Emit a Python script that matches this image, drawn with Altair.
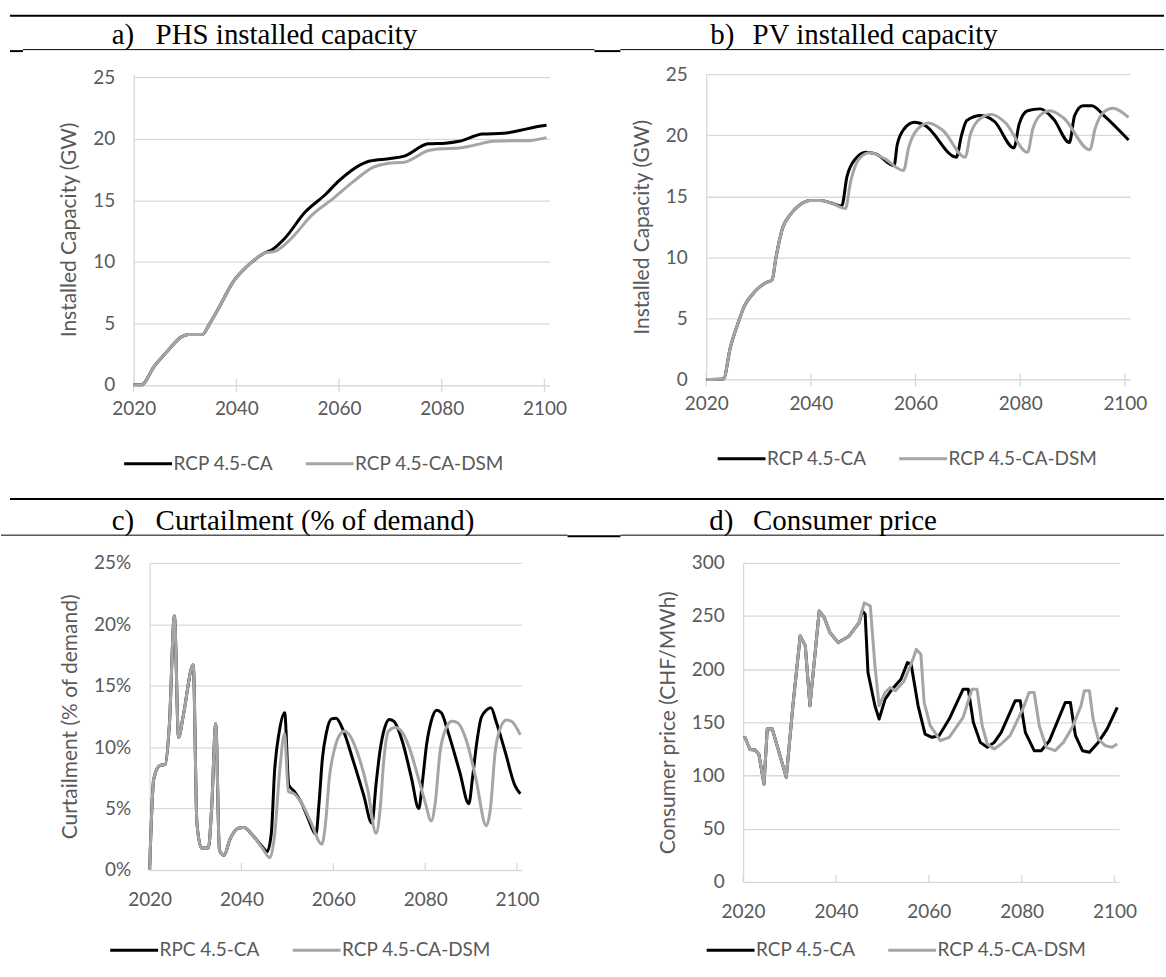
import altair as alt
import pandas as pd

FONT = "Lato"
SERIF = "Liberation Serif"
TEXT = "#595959"
GRID = "#D9D9D9"
BLACK = "#000000"
GRAY = "#A5A5A5"

CA = "RCP 4.5-CA"
CA_CURT = "RPC 4.5-CA"
DSM = "RCP 4.5-CA-DSM"

tick_years = [2020, 2040, 2060, 2080, 2100]

# a) PHS installed capacity (GW)
phs_ca_year = [2020, 2021.5, 2024, 2026.7, 2029.3, 2030.7, 2033.4, 2034.7, 2036.7, 2039.4,
               2042, 2045.4, 2047, 2049.4, 2053.4, 2057.4, 2060, 2066, 2070, 2072.7,
               2077.4, 2080.7, 2083.4, 2088, 2092, 2095.4, 2098, 2100.4]
phs_ca_gw = [0, 0, 1.5, 2.8, 3.9, 4.1, 4.1, 4.9, 6.35, 8.4,
             9.6, 10.7, 11.0, 11.9, 14.05, 15.5, 16.6, 18.2, 18.4, 18.6,
             19.6, 19.65, 19.8, 20.4, 20.45, 20.7, 20.95, 21.1]
phs_dsm_year = [2020, 2021.5, 2024, 2026.7, 2029.3, 2030.7, 2033.4, 2034.7, 2036.7, 2039.4,
                2042, 2045.4, 2047.5, 2050.7, 2054.7, 2058.7, 2062.7, 2066.7, 2069.4, 2072.7,
                2077.4, 2080, 2083.4, 2086, 2090, 2093.4, 2096.8, 2100.4]
phs_dsm_gw = [0, 0, 1.5, 2.8, 3.9, 4.1, 4.1, 4.9, 6.35, 8.4,
              9.6, 10.7, 10.85, 11.9, 13.8, 15.1, 16.5, 17.7, 18.0, 18.1,
              19.05, 19.2, 19.25, 19.45, 19.8, 19.85, 19.85, 20.1]

# b) PV installed capacity (GW)
pv_ca_year = [2020, 2023.3, 2024.6, 2026, 2027.3, 2029.3, 2031.3, 2032.6, 2033.3, 2034.6,
              2036, 2037.9, 2039.9, 2041.9, 2043.9, 2045.9, 2046.9, 2048.6, 2050.5, 2052.5,
              2055.9, 2056.5, 2057.8, 2059.8, 2061.8, 2067.8, 2068.8, 2069.8, 2072.5, 2075.1,
              2078.8, 2079.8, 2081.4, 2083.8, 2086.4, 2089.4, 2090.4, 2092, 2093.7, 2096, 2100.7]
pv_ca_gw = [0, 0.05, 2.6, 4.5, 6.0, 7.2, 7.9, 8.15, 9.9, 12.4,
            13.45, 14.3, 14.65, 14.65, 14.45, 14.2, 16.6, 18.1, 18.6, 18.45,
            17.5, 19.2, 20.5, 21.05, 20.8, 18.2, 20.0, 21.2, 21.6, 21.1,
            18.95, 20.9, 22.0, 22.15, 21.3, 19.4, 21.6, 22.4, 22.4, 21.6, 19.6]
pv_dsm_year = [2020, 2023.3, 2024.6, 2026, 2027.3, 2029.3, 2031.3, 2032.6, 2033.3, 2034.6,
               2036, 2037.9, 2039.9, 2041.9, 2043.9, 2046.6, 2047.6, 2049.3, 2051.3, 2054,
               2057.7, 2058.7, 2060.4, 2062.5, 2065.2, 2069.5, 2070.5, 2072.5, 2074.5, 2077.1,
               2081.4, 2082.4, 2084, 2085.7, 2088.3, 2093.3, 2094.3, 2096, 2097.7, 2100.7]
pv_dsm_gw = [0, 0.05, 2.6, 4.5, 6.0, 7.2, 7.9, 8.15, 9.9, 12.4,
             13.45, 14.3, 14.65, 14.65, 14.45, 14.0, 16.2, 18.1, 18.55, 18.1,
             17.1, 19.0, 20.5, 21.0, 20.4, 18.2, 20.1, 21.4, 21.7, 21.05,
             18.6, 20.5, 21.7, 22.0, 21.4, 18.8, 20.5, 21.9, 22.2, 21.45]

# c) Curtailment (% of demand); both runs coincide until the mid 2040s
curt_early_year = [2020, 2020.9, 2022.2, 2023.4, 2024.3, 2025.4, 2026.3, 2027.3, 2029.5, 2030.3,
                   2031.3, 2032.8, 2033.5, 2034.4, 2035.2, 2036.2, 2037.5, 2039.3, 2040.5, 2042.5]
curt_early_pct = [0.0, 7.4, 8.5, 8.6, 11.8, 20.7, 10.8, 12.5, 16.7, 3.8,
                  1.8, 1.8, 5.0, 11.9, 1.6, 1.2, 2.5, 3.4, 3.45, 2.8]
curt_ca_year = [2044.5, 2045.6, 2046.5, 2047.2, 2048.2, 2049.4, 2050.3, 2051.5, 2053, 2054.5,
                2056.2, 2056.9, 2057.6, 2058.5, 2059.6, 2060.6, 2062, 2064.4, 2066.6, 2068.4,
                2069.3, 2070.2, 2071.2, 2072.2, 2073.2, 2075, 2077, 2078.6, 2079.4, 2080.3,
                2081.3, 2082.5, 2083.5, 2085, 2087.5, 2089.5, 2090.3, 2091.2, 2092.2, 2093.3,
                2094.3, 2095.5, 2097.5, 2099.5, 2100.7]
curt_ca_pct = [1.9, 1.5, 3.0, 8.0, 11.2, 12.8, 6.9, 6.4, 5.5, 4.2,
               2.9, 5.5, 9.0, 11.2, 12.3, 12.35, 11.5, 8.8, 6.1, 3.8,
               7.0, 9.8, 11.6, 12.25, 12.1, 10.5, 7.5, 5.0, 7.2, 10.2,
               12.1, 13.0, 12.8, 11.2, 8.0, 5.4, 7.5, 10.3, 12.4, 13.0,
               13.2, 12.0, 9.5, 6.9, 6.2]
curt_dsm_year = [2044.5, 2046.2, 2047.2, 2048.3, 2049.4, 2050.2, 2051.5, 2053, 2055, 2057.5,
                 2058.3, 2059.1, 2060.3, 2061.4, 2062.4, 2063.5, 2065, 2067.5, 2069.3, 2070.2,
                 2071, 2072, 2073.5, 2075, 2076.5, 2078.5, 2080, 2081.3, 2082.2, 2083.2,
                 2084.5, 2085.8, 2087, 2089, 2091, 2093.3, 2094.2, 2095.2, 2096.3, 2097.7,
                 2098.8, 2100.7]
curt_dsm_pct = [1.8, 1.0, 2.8, 8.0, 11.1, 6.4, 6.2, 5.5, 4.0, 2.1,
                3.8, 7.4, 9.9, 11.0, 11.3, 11.0, 9.8, 6.5, 3.0, 5.0,
                9.0, 11.3, 11.6, 11.2, 10.0, 7.5, 5.5, 4.0, 5.5, 9.5,
                11.5, 12.1, 12.0, 10.5, 7.5, 3.6, 5.0, 9.5, 11.5, 12.2,
                12.1, 11.0]

# d) Consumer price (CHF/MWh); both runs coincide until 2045
price_early_year = [2020.3, 2021.5, 2022.6, 2023.4, 2024.5, 2025.2, 2026.3, 2029.3, 2030.8,
                    2032.3, 2033.4, 2034.4, 2036.4, 2037.5, 2038.7, 2040.5, 2042.8, 2045]
price_early_chf = [137, 124.5, 124, 120, 92, 143.7, 143.7, 98.4, 168.7,
                   231.2, 221.9, 165.6, 254.7, 248.4, 234.4, 225, 231, 243.7]
price_ca_year = [2045.7, 2046.3, 2046.9, 2048.4, 2049.3, 2050.6, 2052.1, 2054, 2055.4, 2056.2,
                 2057.7, 2059.2, 2060.7, 2062.2, 2064.4, 2067.4, 2068.5, 2069.6, 2071.1, 2072.6,
                 2074.1, 2075.6, 2078.6, 2079.7, 2080.8, 2082.7, 2084.2, 2086, 2089.4, 2090.5,
                 2091.6, 2093.1, 2094.6, 2096.5, 2098.4, 2100.6]
price_ca_chf = [254.7, 251.6, 196.9, 165.6, 153.1, 171.9, 181.2, 190.6, 206.2, 204.7,
                165.6, 139, 136, 137.5, 153.1, 181.2, 181.2, 150, 131.2, 126.6,
                131.2, 140.6, 170.3, 170.3, 140.6, 123.4, 123.4, 132.8, 168.7, 168.7,
                137.5, 123.4, 121.9, 131.2, 143.7, 164.1]
price_dsm_year = [2046.1, 2047.4, 2048.4, 2049.3, 2050.6, 2051.7, 2052.8, 2054.7, 2056.6, 2057.3,
                  2058.3, 2059, 2060.3, 2062.5, 2064.4, 2067.4, 2069.3, 2070.4, 2071.5, 2072.6,
                  2074.1, 2075.6, 2077.5, 2080.4, 2081.6, 2082.7, 2083.8, 2085.3, 2087.2, 2089,
                  2090.9, 2092.8, 2093.5, 2094.6, 2095.4, 2096.5, 2098, 2099.5, 2100.6]
price_dsm_chf = [262.5, 259.4, 203.1, 165.6, 178.1, 182.8, 179.7, 189, 209.4, 218.7,
                 214, 168.7, 146.9, 132.8, 136, 154.7, 181.2, 181.2, 146.9, 129.7,
                 125, 129.7, 137.5, 164.1, 178.1, 178.1, 146.9, 126.6, 123.4, 131.2,
                 145.3, 165.6, 179.7, 179.7, 153.1, 134.4, 128.1, 126.6, 129.7]

ONE_ROW = alt.Data(values=[{}])


def panel(k_year, k_val, g_year, g_val, names, y_title, y_ticks, y_top, width, height,
          legend_x, legend_y, tick_up, tick_down, x_pad, interp, y_label_expr=None):
    df = pd.DataFrame({
        "year": k_year + g_year,
        "value": k_val + g_val,
        "series": [names[0]] * len(k_year) + [names[1]] * len(g_year),
    })
    x = alt.X(
        "year:Q",
        scale=alt.Scale(domain=[2020, 2101], nice=False, zero=False),
        axis=alt.Axis(values=tick_years, format="d", grid=False, domain=False, ticks=False,
                      tickSize=0, labelPadding=x_pad, labelFlush=False, title=None,
                      labelFont=FONT, labelFontSize=19, labelColor=TEXT),
    )
    y_axis = dict(values=y_ticks, grid=True, gridColor=GRID, gridWidth=1.3,
                  domain=True, domainColor=GRID, domainWidth=1.3, ticks=False, tickSize=0,
                  labelPadding=19, labelFont=FONT, labelFontSize=19, labelColor=TEXT,
                  title=y_title, titleFont=FONT, titleFontSize=21, titleFontWeight="normal",
                  titleColor=TEXT, titlePadding=13)
    if y_label_expr:
        y_axis["labelExpr"] = y_label_expr
    y = alt.Y("value:Q", scale=alt.Scale(domain=[0, y_top], nice=False),
              axis=alt.Axis(**y_axis))
    color = alt.Color(
        "series:N",
        scale=alt.Scale(domain=names, range=[BLACK, GRAY]),
        legend=alt.Legend(orient="none", legendX=legend_x, legendY=legend_y,
                          direction="horizontal", title=None, padding=0,
                          symbolType="stroke", symbolSize=2304, symbolStrokeWidth=3,
                          labelFont=FONT, labelFontSize=19, labelColor=TEXT,
                          labelOffset=0, columnPadding=26, labelLimit=300),
    )
    base = alt.Chart(df).encode(x=x, y=y, color=color)
    lines = [
        base.transform_filter(alt.datum.series == n)
        .mark_line(interpolate=interp, strokeWidth=3, strokeJoin="round")
        for n in names
    ]
    ticks = alt.Chart(pd.DataFrame({"year": tick_years})).mark_rule(
        color=GRID, strokeWidth=1.3
    ).encode(x=x, y=alt.value(height - tick_up), y2=alt.value(height + tick_down))
    return alt.layer(ticks, *lines).properties(width=width, height=height)


def margin(width, height, above, below, rules, heads):
    """Left margin of a row: it holds the heading rules and captions of the
    section and an invisible rule that fixes how far the row reaches."""
    layers = [alt.Chart(ONE_ROW).mark_rule(opacity=0, strokeWidth=0).encode(
        x=alt.value(0), y=alt.value(-above), y2=alt.value(below))]
    for x1, x2, yy, w in rules:
        layers.append(alt.Chart(ONE_ROW).mark_rule(color="black", strokeWidth=w).encode(
            x=alt.value(x1), x2=alt.value(x2), y=alt.value(yy)))
    for xx, yy, s in heads:
        layers.append(alt.Chart(ONE_ROW).mark_text(
            align="left", baseline="alphabetic", font=SERIF, fontSize=29, color="black"
        ).encode(x=alt.value(xx), y=alt.value(yy), text=alt.value(s)))
    return alt.layer(*layers).properties(width=width, height=height)


def blank(width, height):
    return alt.Chart(ONE_ROW).mark_rule(opacity=0, strokeWidth=0).encode(
        x=alt.value(0), y=alt.value(0), y2=alt.value(height)
    ).properties(width=width, height=height)


gw_ticks = [0, 5, 10, 15, 20, 25]

chart_a = panel(phs_ca_year, phs_ca_gw, phs_dsm_year, phs_dsm_gw, [CA, DSM],
                "Installed Capacity (GW)", gw_ticks, 25.27, 417, 311.6,
                -11, 365, 6, 7, 15, "monotone")
chart_b = panel(pv_ca_year, pv_ca_gw, pv_dsm_year, pv_dsm_gw, [CA, DSM],
                "Installed Capacity (GW)", gw_ticks, 25, 425, 306.3,
                10, 360, 6, 7, 15, "monotone")
chart_c = panel(curt_early_year + curt_ca_year, curt_early_pct + curt_ca_pct,
                curt_early_year + curt_dsm_year, curt_early_pct + curt_dsm_pct,
                [CA_CURT, DSM], "Curtailment (% of demand)", [0, 5, 10, 15, 20, 25], 25,
                373, 308, -41, 362.7, 7, 0, 21, "monotone",
                y_label_expr="datum.value + '%'")
chart_d = panel(price_early_year + price_ca_year, price_early_chf + price_ca_chf,
                price_early_year + price_dsm_year, price_early_chf + price_dsm_chf,
                [CA, DSM], "Consumer price (CHF/MWh)", [0, 50, 100, 150, 200, 250, 300], 300,
                377, 320, -38, 362.7, 7, 0, 21, "linear")

# Upper row: plots start 72 px below the page top; heading a)/b) sits above them.
margin_ab = margin(
    133, 311.6, 72, 430,
    [(9, 1166, -58.5, 2), (22, 595, -24.5, 1), (621, 1166, -24.5, 1),
     (9, 22, -23, 2), (595, 621, -23, 2),
     (9, 1166, 426, 2)],
    [(111, -30, "a)"), (155, -30, "PHS installed capacity"),
     (711, -30, "b)"), (753.5, -30, "PV installed capacity")],
)
# Lower row: plots start at 560 px; heading c)/d) sits above them.
margin_cd = margin(
    149, 308, 58, 320,
    [(0, 568, -27.7, 1), (621, 1166, -27.7, 1), (568, 621, -26.5, 2)],
    [(111, -33, "c)"), (155, -33, "Curtailment (% of demand)"),
     (710, -33, "d)"), (754, -33, "Consumer price")],
)

row_ab = alt.hconcat(
    margin_ab, chart_a, blank(157, 311.6), chart_b, spacing=0, bounds="flush",
).resolve_scale(color="independent")

row_cd = alt.hconcat(
    margin_cd, chart_c, blank(222, 308), chart_d, spacing=0, bounds="flush",
).resolve_scale(color="independent")

chart = alt.vconcat(row_ab, row_cd, spacing=0).resolve_scale(
    color="independent"
).properties(padding=0, background="white").configure_view(stroke="transparent")

chart.save("out.html", embed_options={"renderer": "svg", "actions": False})
